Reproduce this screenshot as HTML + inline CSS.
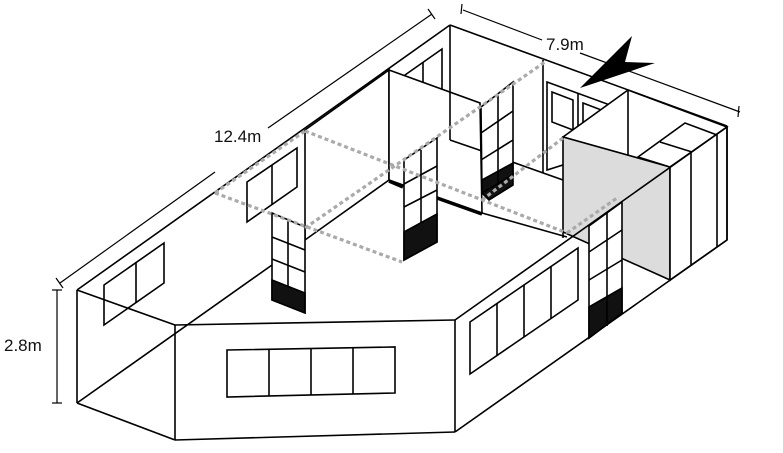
<!DOCTYPE html>
<html><head><meta charset="utf-8"><style>
html,body{margin:0;padding:0;background:#fff;}
svg{display:block;}
text{font-family:"Liberation Sans",sans-serif;font-size:17px;fill:#111;}
</style></head><body>
<svg width="783" height="453" viewBox="0 0 783 453" xmlns="http://www.w3.org/2000/svg">
<g fill="none" stroke="#000" stroke-width="1.6" stroke-linejoin="miter">
<!-- dimension lines -->
<line x1="60" y1="283" x2="215" y2="172" stroke-width="1.2"/>
<line x1="268" y1="128" x2="432" y2="14" stroke-width="1.2"/>
<line x1="56" y1="278" x2="63" y2="288" stroke-width="1.2"/>
<line x1="428" y1="9" x2="435" y2="19" stroke-width="1.2"/>
<line x1="463" y1="10" x2="542" y2="40" stroke-width="1.2"/>
<line x1="580" y1="53" x2="740" y2="112" stroke-width="1.2"/>
<line x1="462" y1="4" x2="461" y2="14" stroke-width="1.2"/>
<line x1="739" y1="106" x2="738" y2="117" stroke-width="1.2"/>
<line x1="57" y1="290" x2="57" y2="403" stroke-width="1.2"/>
<line x1="52" y1="290" x2="62" y2="290" stroke-width="1.2"/>
<line x1="52" y1="403" x2="62" y2="403" stroke-width="1.2"/>

<!-- outer back walls -->
<line x1="77" y1="290" x2="450" y2="25"/>
<line x1="450" y1="25" x2="727" y2="126"/>
<line x1="450" y1="25" x2="450" y2="140"/>
<line x1="450" y1="140" x2="563" y2="180"/>
<!-- floor line back-left -->
<line x1="77" y1="403" x2="272" y2="265"/>
<!-- windows on back-left wall -->
<polygon points="104,285 164,243 164,283 104,325"/><line x1="136" y1="262" x2="136" y2="303"/>
<polygon points="247,182 297,148 297,187 247,222"/><line x1="272" y1="165" x2="272" y2="205"/>
<polygon points="348,115 388,88 388,125 348,152"/><line x1="374" y1="97" x2="374" y2="134"/>
<polygon points="405,75 442,49 442,90 405,115"/><line x1="423" y1="62" x2="423" y2="102"/>
<!-- door on back right wall -->
<line x1="543" y1="60" x2="543" y2="173"/>
<polygon points="547,82 610,105 610,150 547,170" fill="#fff"/>
<line x1="578" y1="93" x2="578" y2="160"/>
<polygon points="552,92 573,100 573,130 552,122"/>
<polygon points="583,103 604,111 604,141 583,133"/>

<!-- partition P1 -->
<polygon points="305,130 389,70 389,180 305,240" fill="#fff"/>
<!-- partition P2 -->
<polygon points="389,70 480,103 482,213 389,180" fill="#fff"/>
<line x1="450" y1="92" x2="450" y2="140"/>
<line x1="450" y1="140" x2="482" y2="151"/>
<line x1="389" y1="181" x2="403" y2="187" stroke-width="3.5"/>
<line x1="437" y1="198" x2="482" y2="214" stroke-width="3.5"/>
<line x1="482" y1="213" x2="567" y2="237"/>

<!-- glass panel G1 -->
<polygon points="272,213 305,227 305,313 272,300" fill="#fff"/>
<polygon points="272,280 305,293 305,313 272,300" fill="#111"/>
<line x1="288" y1="220" x2="288" y2="287"/>
<line x1="272" y1="237" x2="305" y2="250"/><line x1="272" y1="259" x2="305" y2="272"/>
<!-- glass panel G2 -->
<polygon points="404,160 437,138 437,242 404,260" fill="#fff"/>
<polygon points="404,232 437,214 437,242 404,260" fill="#111"/>
<line x1="421" y1="150" x2="421" y2="223"/>
<line x1="404" y1="207" x2="437" y2="190"/><line x1="404" y1="184" x2="437" y2="166"/>
<!-- glass panel G3 -->
<polygon points="481,107 513,82 513,175 482,193" fill="#fff"/>
<polygon points="482,180 513,163 513,175 482,193" fill="#111"/>
<polygon points="482,193 513,175 513,185 489,200" fill="#111"/>
<line x1="498" y1="95" x2="498" y2="185"/>
<line x1="481" y1="133" x2="513" y2="111"/><line x1="481" y1="160" x2="513" y2="140"/>

<!-- gray room -->
<polygon points="563,137 628,90 727,127 670,167" fill="#fff"/>
<polygon points="563,137 670,167 670,280 563,232" fill="#dcdcdc"/>
<line x1="628" y1="90" x2="628" y2="155"/>
<!-- cabinet -->
<polygon points="638,157 685,123 717,135 670,167" fill="#fff"/>
<line x1="660" y1="142" x2="692" y2="152"/>
<polygon points="670,167 727,127 727,240 670,280" fill="#fff"/>
<line x1="691" y1="152" x2="691" y2="265"/>
<line x1="717" y1="134" x2="717" y2="247"/>

<!-- right-front wall -->
<line x1="455" y1="320" x2="727" y2="127"/>
<line x1="455" y1="432" x2="727" y2="240"/>
<line x1="727" y1="126" x2="727" y2="240"/>
<line x1="455" y1="320" x2="455" y2="432"/>
<polygon points="470,322 578,248 578,300 470,374"/>
<line x1="497" y1="303" x2="497" y2="355"/><line x1="524" y1="285" x2="524" y2="337"/><line x1="551" y1="266" x2="551" y2="318"/>
<!-- glass door G4 -->
<polygon points="589,226 622,202 622,313 589,338" fill="#fff"/>
<polygon points="589,307 622,288 622,313 589,338" fill="#111"/>
<line x1="607" y1="213" x2="607" y2="326"/>
<line x1="589" y1="252" x2="622" y2="230"/><line x1="589" y1="280" x2="622" y2="260"/>
<line x1="563" y1="232" x2="563" y2="238"/>

<!-- front-left and front walls -->
<line x1="77" y1="290" x2="77" y2="403"/>
<line x1="77" y1="290" x2="175" y2="325"/>
<line x1="77" y1="403" x2="175" y2="440"/>
<line x1="175" y1="325" x2="175" y2="440"/>
<line x1="175" y1="325" x2="455" y2="320"/>
<line x1="175" y1="440" x2="455" y2="432"/>
<polygon points="227,350 395,347 395,393 227,397"/>
<line x1="269" y1="349" x2="269" y2="396"/><line x1="311" y1="349" x2="311" y2="395"/><line x1="353" y1="348" x2="353" y2="394"/>
</g>

<!-- dotted ceiling lines -->
<g stroke="#aaa" stroke-width="3.2" stroke-dasharray="4,3" fill="none">
<line x1="215" y1="193" x2="305" y2="131"/>
<line x1="215" y1="193" x2="402" y2="262"/>
<line x1="305" y1="131" x2="567" y2="233"/>
<line x1="305" y1="228" x2="545" y2="62"/>
<line x1="482" y1="200" x2="563" y2="138"/>
<line x1="567" y1="233" x2="617" y2="198"/>
</g>

<!-- north arrow -->
<polygon points="580,88 632,36 625,62 655,63" fill="#000"/>

<text x="214" y="142">12.4m</text>
<text x="546" y="50">7.9m</text>
<text x="4" y="351">2.8m</text>
</svg>
</body></html>
